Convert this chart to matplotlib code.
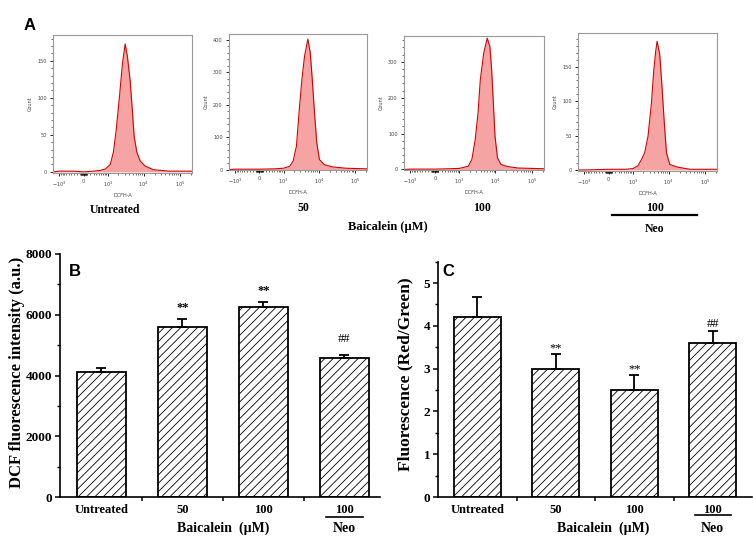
import numpy as np
import matplotlib
matplotlib.use('Agg')
import matplotlib.pyplot as plt
from matplotlib.transforms import blended_transform_factory
from matplotlib.lines import Line2D
from matplotlib.ticker import FixedLocator, MultipleLocator

plt.rcParams['hatch.linewidth'] = 0.6
plt.rcParams['mathtext.default'] = 'regular'

W, H = 753, 539
SERIF = 'Liberation Serif'
SANS = 'Liberation Sans'

# ---------------- data ----------------
hist_titles = ['Untreated', '50', '100', '100']
h1_x = [-1540, -1000, -300, 0, 300, 570, 830, 1170, 1450, 1740, 2150, 2600, 3100, 3600, 4250, 4950, 5500, 6500, 8000, 11000, 18500, 50000, 215000]
h1_c = [0, 1, 1, 0, 1, 2, 4, 10, 27, 57, 102, 146, 173, 155, 124, 80, 48, 27, 15, 8, 3, 1, 1]
h2_x = [-1540, -1000, 0, 500, 1000, 1520, 1900, 2360, 2790, 3370, 4000, 4930, 5740, 6520, 7540, 8710, 10300, 14100, 23900, 55600, 215000]
h2_c = [0, 1, 1, 2, 4, 10, 26, 72, 175, 279, 351, 402, 361, 279, 175, 83, 31, 15, 8, 4, 2]
h3_x = [-1540, -1000, 0, 500, 1000, 1810, 2280, 2820, 3370, 3900, 4840, 6030, 7140, 7970, 8890, 9850, 11500, 14300, 22000, 41900, 215000]
h3_c = [0, 1, 1, 2, 3, 9, 28, 83, 157, 250, 324, 366, 343, 278, 185, 93, 33, 14, 8, 4, 2]
h4_x = [-1540, -1000, 0, 600, 1000, 1400, 1760, 2180, 2700, 3360, 3890, 4430, 4810, 5710, 6610, 7520, 8750, 10800, 18300, 38500, 215000]
h4_c = [0, 0, 1, 1, 2, 6, 15, 25, 49, 97, 144, 173, 187, 168, 120, 73, 25, 8, 4, 1, 1]
hist_yticks = [[0, 50, 100, 150], [0, 100, 200, 300, 400], [0, 100, 200, 300], [0, 50, 100, 150]]
hist_ymax = [185, 418, 372, 199]
hist_xticks = [-1e3, 0, 1e3, 1e4, 1e5]
hist_xticklabels = ['$-10^3$', '0', '$10^3$', '$10^4$', '$10^5$']

bar_categories = ['Untreated', '50', '100', '100']
dcf_mean = [4130, 5610, 6240, 4560]
dcf_err = [130, 245, 180, 120]
dcf_marks = ['', '**', '**', '##']
ratio_mean = [4.2, 3.0, 2.5, 3.6]
ratio_err = [0.47, 0.35, 0.36, 0.28]
ratio_marks = ['', '**', '**', '##']

# ---------------- figure ----------------
fig = plt.figure(figsize=(W / 100, H / 100), dpi=100)


def fx(px):
    return px / W


def fy(py):
    return 1 - py / H


def axes_px(l, t, r, b):
    return fig.add_axes([fx(l), fy(b), (r - l) / W, (b - t) / H])


# ---- Panel A: histograms ----
hist_data = [(h1_x, h1_c), (h2_x, h2_c), (h3_x, h3_c), (h4_x, h4_c)]
hist_rects = [(53, 35, 192, 173), (229, 34, 367, 170), (404, 36, 544, 170), (578, 33, 717, 171)]
minor_x = ([-v for v in range(100, 1000, 100)] + [-v for v in range(10, 100, 10)] +
           list(range(10, 100, 10)) + list(range(100, 1000, 100)) +
           [k * 1e3 for k in range(2, 10)] + [k * 1e4 for k in range(2, 10)] + [2e5])
for i, ((hx, hc), rect) in enumerate(zip(hist_data, hist_rects)):
    ax = axes_px(*rect)
    ax.set_xscale('asinh', linear_width=450)
    ax.fill_between(hx, hc, 0, color='#f5a3a3', lw=0, zorder=1)
    ax.plot(hx, hc, color='#d40000', lw=0.8, zorder=2)
    ax.set_xlim(-1540, 215000)
    ax.set_ylim(-1.5, hist_ymax[i])
    ax.xaxis.set_major_locator(FixedLocator(hist_xticks))
    ax.set_xticklabels(hist_xticklabels)
    ax.xaxis.set_minor_locator(FixedLocator(minor_x))
    ax.set_yticks(hist_yticks[i])
    step = hist_yticks[i][1] - hist_yticks[i][0]
    ax.yaxis.set_minor_locator(MultipleLocator(step / 5))
    ax.tick_params(axis='both', which='major', labelsize=3.6, labelcolor='#444444',
                   length=2.5, width=0.6, pad=2)
    ax.tick_params(axis='both', which='minor', length=1.3, width=0.4)
    for s in ax.spines.values():
        s.set_color('#999999')
        s.set_linewidth(0.8)
    ax.set_ylabel('Count', fontsize=3.6, color='#444444', labelpad=3)
    ax.set_xlabel('DCFH-A', fontsize=3.6, color='#444444', labelpad=3)

fig.text(fx(30), fy(25), 'A', fontsize=12, fontweight='bold', family=SANS, ha='center', va='center')
label_pos = [(115, 210), (303, 208), (482, 208), (655, 208)]
for t, (px, py) in zip(hist_titles, label_pos):
    fig.text(fx(px), fy(py), t, fontsize=8.5, fontweight='bold', family=SERIF, ha='center', va='center')
fig.add_artist(Line2D([fx(612), fx(697)], [fy(215), fy(215)], color='black', lw=1.6,
                      transform=fig.transFigure))
fig.text(fx(655), fy(229), 'Neo', fontsize=8.5, fontweight='bold', family=SERIF, ha='center', va='center')
fig.text(fx(388), fy(227), 'Baicalein (\u00b5M)', fontsize=9, fontweight='bold', family=SERIF,
         ha='center', va='center')


# ---- Panels B and C: bar charts ----
def bar_panel(ax, vals, errs, marks, ymax, major, minor, mark_offsets, mark_weights, neo_y, xlim, bx):
    x = np.arange(len(vals))
    ax.bar(x, vals, width=0.6, color='white', edgecolor='black', linewidth=1.3,
           hatch='////', zorder=2)
    ax.errorbar(x, vals, yerr=[np.zeros(len(vals)), errs], fmt='none', ecolor='black',
                elinewidth=1.3, capsize=3.3, capthick=1.3, zorder=3)
    for xi, v, e, m, off, wgt in zip(x, vals, errs, marks, mark_offsets, mark_weights):
        if m:
            ax.annotate(m, (xi, v + e), xytext=(0, off), textcoords='offset points',
                        ha='center', va='baseline', fontsize=9, family=SERIF, fontweight=wgt)
    ax.set_xlim(*xlim)
    ax.set_ylim(0, ymax)
    ax.set_xticks(x)
    ax.set_xticklabels(bar_categories, fontsize=9, fontweight='bold', family=SERIF)
    ax.xaxis.set_minor_locator(FixedLocator([0.5, 1.5, 2.5]))
    ax.yaxis.set_major_locator(MultipleLocator(major))
    ax.yaxis.set_minor_locator(MultipleLocator(minor))
    ax.tick_params(axis='x', which='major', length=0, pad=5)
    ax.tick_params(axis='x', which='minor', length=3.2, width=1.1, direction='out')
    ax.tick_params(axis='y', which='major', length=3.5, width=1.1, pad=2)
    ax.tick_params(axis='y', which='minor', length=2, width=1.0)
    for lab in ax.get_yticklabels():
        lab.set_fontweight('bold')
        lab.set_family(SERIF)
        lab.set_fontsize(9.5)
    for s in ['top', 'right']:
        ax.spines[s].set_visible(False)
    for s in ['left', 'bottom']:
        ax.spines[s].set_linewidth(1.2)
    tr = blended_transform_factory(ax.transData, fig.transFigure)
    ax.add_line(Line2D([2.77, 3.23], [fy(neo_y), fy(neo_y)], color='black', lw=1.2,
                       transform=tr, clip_on=False))
    ax.text(3, fy(528), 'Neo', transform=tr, fontsize=10, fontweight='bold', family=SERIF,
            ha='center', va='center')
    ax.text(bx, fy(528), 'Baicalein  (\u00b5M)', transform=tr, fontsize=10, fontweight='bold',
            family=SERIF, ha='center', va='center')


axB = axes_px(60, 254, 380, 497)
bar_panel(axB, dcf_mean, dcf_err, dcf_marks, 8000, 2000, 1000, [0, 6, 6, 9],
          ['bold', 'bold', 'bold', 'normal'], 517, (-0.51, 3.44), 1.5)
fig.text(fx(75), fy(272), 'B', fontsize=12, fontweight='bold', family=SANS, ha='center', va='center')
fig.text(fx(17), fy(372), 'DCF fluorescence intensity (a.u.)', rotation=90, fontsize=12,
         fontweight='bold', family=SERIF, ha='center', va='center')

axC = axes_px(438, 261.7, 752, 497)
bar_panel(axC, ratio_mean, ratio_err, ratio_marks, 5.5, 1, 0.5, [0, 1.5, 1.5, 3],
          ['normal', 'normal', 'normal', 'normal'], 515, (-0.5, 3.5), 1.6)
axC.set_yticks([0, 1, 2, 3, 4, 5])
for lab in axC.get_yticklabels():
    lab.set_fontweight('bold')
    lab.set_family(SERIF)
    lab.set_fontsize(9.5)
fig.text(fx(448), fy(272), 'C', fontsize=12, fontweight='bold', family=SANS, ha='center', va='center')
fig.text(fx(405), fy(374), 'Fluorescence (Red/Green)', rotation=90, fontsize=12.5,
         fontweight='bold', family=SERIF, ha='center', va='center')

fig.savefig('out.png', dpi=100)
